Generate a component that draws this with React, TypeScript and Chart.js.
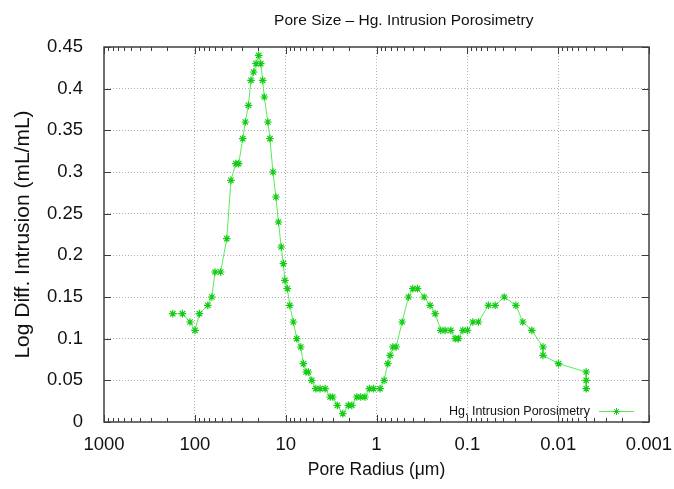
import React, { useEffect, useRef } from 'react';
import { Chart, registerables } from 'chart.js';

Chart.register(...registerables);

// ---- data ----
const radius = [
  175, 137, 113, 99.5, 89, 72, 65, 60, 52, 44.5,
  40, 35.4, 32.9, 29.7, 27.8, 25.7, 24.1, 22.5, 21.2, 19.8,
  18.8, 17.9, 17.2, 15.7, 14.9, 13.8, 12.8, 12.0, 11.2, 10.6,
  10.2, 9.58, 9.01, 8.23, 7.55, 6.82, 6.38, 5.96, 5.62, 5.16,
  4.66, 4.18, 3.68, 3.24, 3.03, 2.7, 2.35, 2.04, 1.87, 1.65,
  1.49, 1.34, 1.2, 1.08, 0.913, 0.825, 0.751, 0.708, 0.661, 0.608,
  0.522, 0.445, 0.398, 0.354, 0.299, 0.257, 0.226, 0.196, 0.176, 0.152,
  0.136, 0.125, 0.112, 0.0997, 0.087, 0.0755, 0.0586, 0.0494, 0.0393, 0.0292,
  0.0245, 0.0195, 0.0147, 0.0147, 0.00992, 0.00491, 0.00491, 0.00491,
];
const intrusion = [
  0.13, 0.13, 0.12, 0.11, 0.13, 0.14, 0.15, 0.18, 0.18, 0.22,
  0.29, 0.31, 0.31, 0.34, 0.36, 0.38, 0.41, 0.42, 0.43, 0.44,
  0.43, 0.41, 0.39, 0.36, 0.34, 0.3, 0.27, 0.24, 0.21, 0.19,
  0.17, 0.16, 0.14, 0.12, 0.1, 0.09, 0.07, 0.06, 0.06, 0.05,
  0.04, 0.04, 0.04, 0.03, 0.03, 0.02, 0.01, 0.02, 0.02, 0.03,
  0.03, 0.03, 0.04, 0.04, 0.04, 0.05, 0.07, 0.08, 0.09, 0.09,
  0.12, 0.15, 0.16, 0.16, 0.15, 0.14, 0.13, 0.11, 0.11, 0.11,
  0.1, 0.1, 0.11, 0.11, 0.12, 0.12, 0.14, 0.14, 0.15, 0.14,
  0.12, 0.11, 0.09, 0.08, 0.07, 0.06, 0.05, 0.04,
];
const xMajorTicks = [1000, 100, 10, 1, 0.1, 0.01, 0.001];
const xTickLabels = ['1000', '100', '10', '1', '0.1', '0.01', '0.001'];
const xMinorMultipliers = [2, 3, 4, 5, 6, 7, 8, 9];
const yTicks = [0, 0.05, 0.1, 0.15, 0.2, 0.25, 0.3, 0.35, 0.4, 0.45];
const yTickLabels = ['0', '0.05', '0.1', '0.15', '0.2', '0.25', '0.3', '0.35', '0.4', '0.45'];
const seriesLabel = 'Hg. Intrusion Porosimetry';
const chartTitle = 'Pore Size – Hg. Intrusion Porosimetry';
const xTitle = 'Pore Radius (μm)';
const yTitle = 'Log Diff. Intrusion (mL/mL)';

const FONT = '"Liberation Sans", Arial, Helvetica, sans-serif';
const LINE_COLOR = '#55ee55';
const MARK_COLOR = '#14cc14';
const TEXT_COLOR = '#111111';
const GRID_COLOR = '#b0b0b0';

const near = (a: number, b: number) => Math.abs(a - b) <= Math.abs(b) * 1e-6;
const majorIndex = (v: number) => xMajorTicks.findIndex((m) => near(v, m));

function buildXTicks() {
  const out: { value: number }[] = [];
  xMajorTicks.forEach((m) => {
    out.push({ value: m });
    if (m < 1000) {
      xMinorMultipliers.forEach((k) => out.push({ value: Number((k * m).toPrecision(6)) }));
    }
  });
  return out.sort((a, b) => a.value - b.value);
}

function drawStar(ctx: CanvasRenderingContext2D, x: number, y: number, r: number) {
  ctx.moveTo(x - r, y); ctx.lineTo(x + r, y);
  ctx.moveTo(x, y - r); ctx.lineTo(x, y + r);
  const d = r * Math.SQRT1_2;
  ctx.moveTo(x - d, y - d); ctx.lineTo(x + d, y + d);
  ctx.moveTo(x - d, y + d); ctx.lineTo(x + d, y - d);
}

const gnuplotFrame = {
  id: 'gnuplotFrame',
  afterDraw(chart: any) {
    const { ctx, chartArea: a, scales } = chart;
    const xs = scales.x;
    const ys = scales.y;
    ctx.save();
    // inward tick marks on all four sides
    ctx.strokeStyle = '#3a3a3a';
    ctx.lineWidth = 1;
    ctx.beginPath();
    xs.ticks.forEach((t: any) => {
      const px = Math.round(xs.getPixelForValue(t.value)) + 0.5;
      const len = majorIndex(t.value) >= 0 ? 7 : 4;
      ctx.moveTo(px, a.bottom); ctx.lineTo(px, a.bottom - len);
      ctx.moveTo(px, a.top); ctx.lineTo(px, a.top + len);
    });
    ys.ticks.forEach((t: any) => {
      const py = Math.round(ys.getPixelForValue(t.value)) + 0.5;
      ctx.moveTo(a.left, py); ctx.lineTo(a.left + 7, py);
      ctx.moveTo(a.right, py); ctx.lineTo(a.right - 7, py);
    });
    ctx.stroke();
    // frame
    ctx.strokeStyle = '#404040';
    ctx.lineWidth = 1.5;
    ctx.strokeRect(a.left, a.top, a.right - a.left, a.bottom - a.top);

    // title
    ctx.fillStyle = TEXT_COLOR;
    ctx.font = `15.5px ${FONT}`;
    ctx.textAlign = 'center';
    ctx.textBaseline = 'middle';
    ctx.fillText(chartTitle, a.left + (a.right - a.left) * 0.55, a.top - 26);

    // legend (inside, bottom right): text then line sample with marker
    const ds = chart.data.datasets[0];
    const ly = a.bottom - 11;
    const sampleRight = a.right - 15;
    const sampleLeft = sampleRight - 35;
    ctx.font = `12.5px ${FONT}`;
    ctx.textAlign = 'right';
    ctx.fillText(ds.label, sampleLeft - 9, ly + 1);
    ctx.strokeStyle = ds.borderColor;
    ctx.lineWidth = 1;
    ctx.beginPath();
    ctx.moveTo(sampleLeft, ly + 0.5); ctx.lineTo(sampleRight, ly + 0.5);
    ctx.stroke();
    ctx.strokeStyle = ds.pointBorderColor;
    ctx.beginPath();
    drawStar(ctx, (sampleLeft + sampleRight) / 2, ly + 0.5, 3.5);
    ctx.stroke();
    ctx.restore();
  },
};

export default function App() {
  const ref = useRef<HTMLCanvasElement | null>(null);

  useEffect(() => {
    document.body.style.margin = '0';
    const canvas = ref.current;
    if (!canvas) return;
    const chart = new Chart(canvas, {
      type: 'line',
      data: {
        datasets: [
          {
            label: seriesLabel,
            data: radius.map((x, i) => ({ x, y: intrusion[i] })),
            borderColor: LINE_COLOR,
            borderWidth: 1,
            pointStyle: 'star',
            pointRadius: 3.8,
            pointHoverRadius: 3.8,
            pointBorderColor: MARK_COLOR,
            pointBackgroundColor: MARK_COLOR,
            pointBorderWidth: 1.2,
            fill: false,
            tension: 0,
          } as any,
        ],
      },
      plugins: [gnuplotFrame],
      options: {
        animation: false,
        responsive: false,
        devicePixelRatio: 1,
        layout: { padding: { top: 47, right: 25, left: 0, bottom: 0 } },
        plugins: {
          legend: { display: false },
          title: { display: false },
          tooltip: { enabled: false },
        },
        scales: {
          x: {
            type: 'logarithmic',
            position: 'bottom',
            reverse: true,
            min: 0.001,
            max: 1000,
            afterBuildTicks: (scale: any) => {
              scale.ticks = buildXTicks();
            },
            afterFit: (scale: any) => {
              scale.height = 67;
            },
            ticks: {
              autoSkip: false,
              maxRotation: 0,
              padding: 12,
              color: TEXT_COLOR,
              font: { family: FONT, size: 18.5 },
              callback: (value: any) => {
                const i = majorIndex(Number(value));
                return i >= 0 ? xTickLabels[i] : '';
              },
            },
            grid: {
              drawTicks: false,
              lineWidth: 1,
              color: (c: any) => {
                const v = c.tick ? c.tick.value : NaN;
                const i = majorIndex(v);
                return i > 0 && i < xMajorTicks.length - 1 ? GRID_COLOR : 'rgba(0,0,0,0)';
              },
            },
            border: { display: false, dash: [1, 2] },
            title: {
              display: true,
              text: xTitle,
              color: TEXT_COLOR,
              font: { family: FONT, size: 17.5 },
              padding: { top: 0, bottom: 8 },
            },
          },
          y: {
            type: 'linear',
            min: 0,
            max: 0.45,
            afterBuildTicks: (scale: any) => {
              scale.ticks = yTicks.map((value) => ({ value }));
            },
            afterFit: (scale: any) => {
              scale.width = 104;
            },
            ticks: {
              padding: 21,
              color: TEXT_COLOR,
              font: { family: FONT, size: 18.5 },
              callback: (value: any) => {
                const i = yTicks.findIndex((t) => Math.abs(t - Number(value)) < 1e-9);
                return i >= 0 ? yTickLabels[i] : '';
              },
            },
            grid: {
              drawTicks: false,
              lineWidth: 1,
              color: (c: any) => {
                const v = c.tick ? c.tick.value : NaN;
                return v > 1e-9 && v < 0.45 - 1e-9 ? GRID_COLOR : 'rgba(0,0,0,0)';
              },
            },
            border: { display: false, dash: [1, 2] },
            title: {
              display: true,
              text: yTitle,
              color: TEXT_COLOR,
              font: { family: FONT, size: 21 },
              padding: { top: 11, bottom: 0 },
            },
          },
        },
      } as any,
    });
    return () => chart.destroy();
  }, []);

  return (
    <div style={{ width: 674, height: 489 }}>
      <canvas ref={ref} width={674} height={489} style={{ display: 'block' }} />
    </div>
  );
}
